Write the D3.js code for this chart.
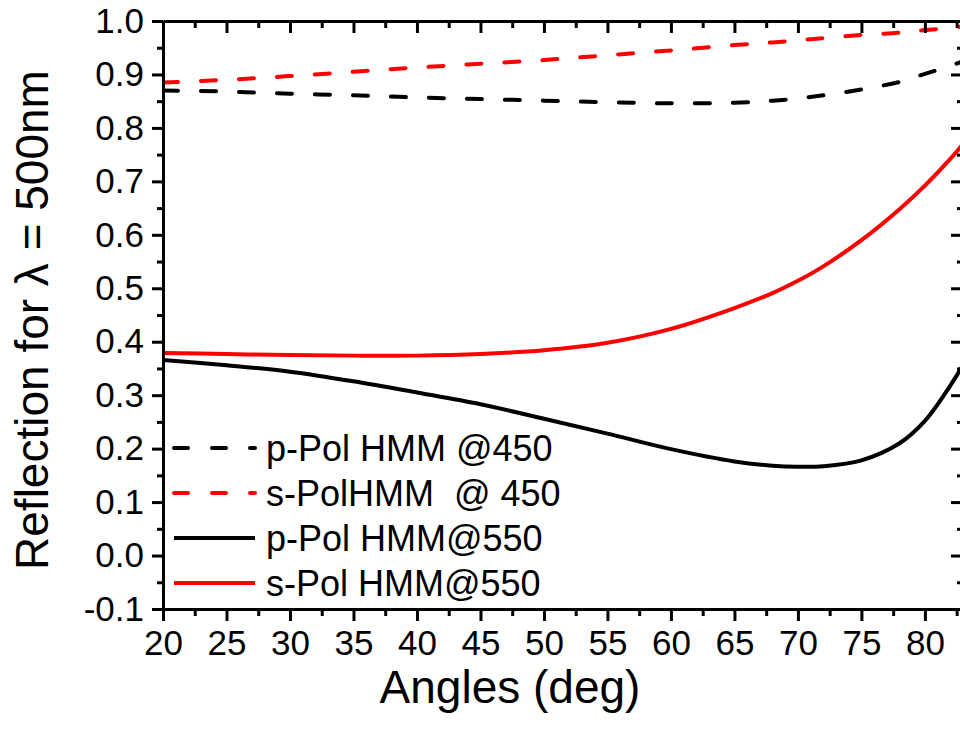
<!DOCTYPE html>
<html>
<head>
<meta charset="utf-8">
<script src="https://cdn.jsdelivr.net/npm/d3@7"></script>
<style>
  html, body { margin: 0; padding: 0; background: #fff; }
  svg { display: block; font-family: "Liberation Sans", Arial, Helvetica, sans-serif; }
</style>
</head>
<body>
<svg id="chart" width="960" height="731"></svg>
<script>
// Incidence angles (deg) shared by all four curves
const angles = [20, 25, 30, 35, 40, 45, 50, 55, 60, 65, 68, 70, 72, 75, 78, 80, 82, 83];

// Reflection values per polarisation / wavelength
const pPol450 = [0.870, 0.868, 0.864, 0.861, 0.857, 0.854, 0.851, 0.848, 0.846, 0.847, 0.851, 0.855, 0.861, 0.872, 0.886, 0.901, 0.916, 0.925];
const sPol450 = [0.885, 0.890, 0.897, 0.905, 0.913, 0.920, 0.927, 0.936, 0.945, 0.955, 0.960, 0.964, 0.968, 0.974, 0.978, 0.983, 0.987, 0.990];
const pPol550 = [0.366, 0.356, 0.344, 0.326, 0.305, 0.283, 0.256, 0.228, 0.199, 0.176, 0.168, 0.166, 0.167, 0.178, 0.210, 0.252, 0.318, 0.356];
const sPol550 = [0.379, 0.377, 0.375, 0.374, 0.374, 0.377, 0.384, 0.398, 0.424, 0.463, 0.491, 0.514, 0.541, 0.590, 0.648, 0.692, 0.742, 0.770];

const seriesNames = ["p-Pol HMM @450", "s-PolHMM  @ 450", "p-Pol HMM@550", "s-Pol HMM@550"];
const seriesColors = ["#000000", "#ff0000", "#000000", "#ff0000"];
const seriesDashed = [true, true, false, false];
const seriesValues = [pPol450, sPol450, pPol550, sPol550];

const xTicks = [20, 25, 30, 35, 40, 45, 50, 55, 60, 65, 70, 75, 80];
const yTicks = [-0.1, 0.0, 0.1, 0.2, 0.3, 0.4, 0.5, 0.6, 0.7, 0.8, 0.9, 1.0];
const xMinorTicks = d3.range(22.5, 83, 5);
const yMinorTicks = d3.range(-0.05, 1.0, 0.1);

const svg = d3.select("#chart");
const margin = { left: 163, top: 21, right: 963, bottom: 609 };

const x = d3.scaleLinear().domain([20, 83]).range([margin.left, margin.right]);
const y = d3.scaleLinear().domain([-0.1, 1.0]).range([margin.bottom, margin.top]);

svg.append("defs").append("clipPath").attr("id", "plot-clip")
  .append("rect")
  .attr("x", margin.left).attr("y", margin.top)
  .attr("width", margin.right - margin.left).attr("height", margin.bottom - margin.top);

// Curves
const line = d3.line()
  .x(d => x(d[0]))
  .y(d => y(d[1]))
  .curve(d3.curveCatmullRom.alpha(0.5));

const plot = svg.append("g").attr("clip-path", "url(#plot-clip)");
seriesValues.forEach((vals, i) => {
  plot.append("path")
    .datum(angles.map((a, k) => [a, vals[k]]))
    .attr("fill", "none")
    .attr("stroke", seriesColors[i])
    .attr("stroke-width", 4)
    .attr("stroke-linecap", seriesDashed[i] ? "round" : "butt")
    .attr("stroke-dasharray", seriesDashed[i] ? "15,23" : null)
    .attr("d", line);
});

// Axes
function styleAxis(g) {
  g.select(".domain").attr("stroke", "#000").attr("stroke-width", 3);
  g.selectAll(".tick line").attr("stroke", "#000").attr("stroke-width", 3);
  g.selectAll(".tick text").attr("fill", "#000").attr("font-size", 35)
    .attr("font-family", "'Liberation Sans', Arial, sans-serif");
}

const fmtY = d => d.toFixed(1);

// bottom
svg.append("g").attr("transform", `translate(0,${margin.bottom})`)
  .call(d3.axisBottom(x).tickValues(xTicks).tickSize(12).tickPadding(9).tickSizeOuter(0))
  .call(styleAxis);
svg.append("g").attr("transform", `translate(0,${margin.bottom})`)
  .call(d3.axisBottom(x).tickValues(xMinorTicks).tickSize(7).tickFormat("").tickSizeOuter(0))
  .call(styleAxis).call(g => g.select(".domain").remove());

// top (inward ticks)
svg.append("g").attr("transform", `translate(0,${margin.top})`)
  .call(d3.axisTop(x).tickValues(xTicks).tickSize(-12).tickFormat("").tickSizeOuter(0))
  .call(styleAxis);
svg.append("g").attr("transform", `translate(0,${margin.top})`)
  .call(d3.axisTop(x).tickValues(xMinorTicks).tickSize(-7).tickFormat("").tickSizeOuter(0))
  .call(styleAxis).call(g => g.select(".domain").remove());

// left
svg.append("g").attr("transform", `translate(${margin.left},0)`)
  .call(d3.axisLeft(y).tickValues(yTicks).tickSize(11).tickPadding(8).tickFormat(fmtY).tickSizeOuter(0))
  .call(styleAxis);
svg.append("g").attr("transform", `translate(${margin.left},0)`)
  .call(d3.axisLeft(y).tickValues(yMinorTicks).tickSize(6).tickFormat("").tickSizeOuter(0))
  .call(styleAxis).call(g => g.select(".domain").remove());

// right (inward ticks)
svg.append("g").attr("transform", `translate(${margin.right},0)`)
  .call(d3.axisRight(y).tickValues(yTicks).tickSize(-12).tickFormat("").tickSizeOuter(0))
  .call(styleAxis);
svg.append("g").attr("transform", `translate(${margin.right},0)`)
  .call(d3.axisRight(y).tickValues(yMinorTicks).tickSize(-6).tickFormat("").tickSizeOuter(0))
  .call(styleAxis).call(g => g.select(".domain").remove());

// Axis titles
svg.append("text")
  .attr("x", 510).attr("y", 703)
  .attr("text-anchor", "middle")
  .attr("font-size", 46)
  .text("Angles (deg)");

svg.append("text")
  .attr("transform", "translate(48,320) rotate(-90)")
  .attr("text-anchor", "middle")
  .attr("font-size", 46)
  .text("Reflection for λ = 500nm");

// Legend
const legend = svg.append("g");
seriesNames.forEach((name, i) => {
  const cy = 448 + i * 45;
  legend.append("line")
    .attr("x1", 174).attr("x2", 255)
    .attr("y1", cy).attr("y2", cy)
    .attr("stroke", seriesColors[i])
    .attr("stroke-width", 4)
    .attr("stroke-linecap", seriesDashed[i] ? "round" : "butt")
    .attr("stroke-dasharray", seriesDashed[i] ? "14,24" : null);
  legend.append("text")
    .attr("x", 266).attr("y", cy)
    .attr("dy", "0.35em")
    .attr("font-size", 36)
    .attr("xml:space", "preserve")
    .style("white-space", "pre")
    .text(name);
});
</script>
</body>
</html>
